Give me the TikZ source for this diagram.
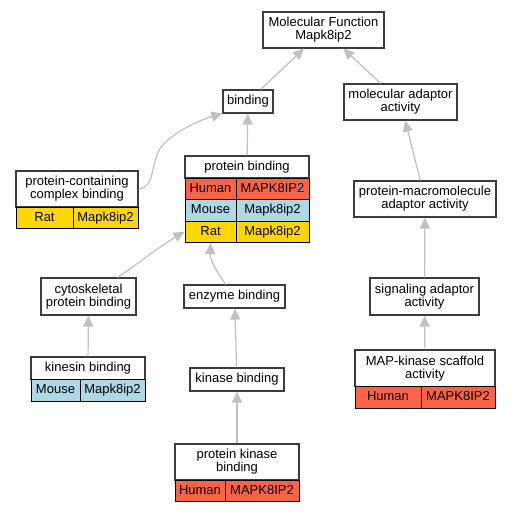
\documentclass[tikz,border=0pt]{standalone}
\usepackage{fontspec}
\setmainfont{Liberation Sans}
\usetikzlibrary{arrows.meta}
\definecolor{human}{RGB}{255,99,71}
\definecolor{mouse}{RGB}{173,216,230}
\definecolor{rat}{RGB}{255,215,0}
\definecolor{edgegray}{RGB}{192,192,192}
\definecolor{boxgray}{RGB}{60,60,60}
\tikzset{
	term/.style={draw=boxgray,line width=1.1pt,fill=white,inner sep=0pt,align=center,font=\fontsize{13}{13}\selectfont},
	cell/.style={draw=black,line width=1pt,fill=#1,inner sep=0pt,text height=9.5pt,text depth=2.5pt,font=\fontsize{13}{13}\selectfont},
	link/.style={draw=edgegray,line width=1.2pt,-{Triangle[length=11pt,width=10pt]}},
}
\begin{document}
\begin{tikzpicture}[x=1pt,y=-1pt]
	\useasboundingbox (0,0) rectangle (512,512);
	% terms
	\node[term,minimum width=121pt,minimum height=36pt] (mf) at (323.5,30) {Molecular Function\\Mapk8ip2};
	\node[term,minimum width=50pt,minimum height=23pt] (bind) at (248,101.5) {binding};
	\node[term,minimum width=113pt,minimum height=36pt] (adapt) at (400.5,102) {molecular adaptor\\activity};
	\node[term,minimum width=142pt,minimum height=36pt] (pma) at (425,199) {protein-macromolecule\\adaptor activity};
	\node[term,minimum width=95pt,minimum height=37pt] (cyto) at (88.5,296.5) {cytoskeletal\\protein binding};
	\node[term,minimum width=101pt,minimum height=23pt] (enz) at (234.5,296.5) {enzyme binding};
	\node[term,minimum width=109pt,minimum height=37pt] (sig) at (424.5,296.5) {signaling adaptor\\activity};
	\node[term,minimum width=94pt,minimum height=23pt] (kb) at (237,379.5) {kinase binding};
	% terms with genes
	\node[term,minimum width=122pt,minimum height=36pt] (pcc) at (77,189) {protein-containing\\complex binding};
	\node[cell=rat,minimum width=57pt,minimum height=21pt] (pccratl) at (44.5,217.5) {Rat};
	\node[cell=rat,minimum width=65pt,minimum height=21pt] (pccratr) at (105.5,217.5) {Mapk8ip2};
	\node[term,minimum width=124pt,minimum height=22pt] (pb) at (247,167) {protein binding};
	\node[cell=human,minimum width=51pt,minimum height=21.5pt] (pbhumanl) at (210.5,188.75) {Human};
	\node[cell=human,minimum width=73pt,minimum height=21.5pt] (pbhumanr) at (272.5,188.75) {MAPK8IP2};
	\node[cell=mouse,minimum width=51pt,minimum height=21.5pt] (pbmousel) at (210.5,210.25) {Mouse};
	\node[cell=mouse,minimum width=73pt,minimum height=21.5pt] (pbmouser) at (272.5,210.25) {Mapk8ip2};
	\node[cell=rat,minimum width=51pt,minimum height=21.5pt] (pbratl) at (210.5,231.75) {Rat};
	\node[cell=rat,minimum width=73pt,minimum height=21.5pt] (pbratr) at (272.5,231.75) {Mapk8ip2};
	\node[term,minimum width=114pt,minimum height=22.5pt] (kin) at (88,368.25) {kinesin binding};
	\node[cell=mouse,minimum width=49pt,minimum height=21.5pt] (kinmousel) at (55.5,390.25) {Mouse};
	\node[cell=mouse,minimum width=65pt,minimum height=21.5pt] (kinmouser) at (112.5,390.25) {Mapk8ip2};
	\node[term,minimum width=140pt,minimum height=36.7pt] (mapk) at (425,368.3) {MAP-kinase scaffold\\activity};
	\node[cell=human,minimum width=66pt,minimum height=21.3pt] (mapkhumanl) at (388,397.35) {Human};
	\node[cell=human,minimum width=74pt,minimum height=21.3pt] (mapkhumanr) at (458,397.35) {MAPK8IP2};
	\node[term,minimum width=124pt,minimum height=36pt] (pkb) at (237,462) {protein kinase\\binding};
	\node[cell=human,minimum width=50pt,minimum height=21pt] (pkbhumanl) at (200,490.5) {Human};
	\node[cell=human,minimum width=74pt,minimum height=21pt] (pkbhumanr) at (262,490.5) {MAPK8IP2};
	% is_a links
	\draw[link] (bind) -- (mf);
	\draw[link] (adapt) -- (mf);
	\draw[link] (pb) -- (bind);
	\draw[link] (pcc.east) .. controls (156,188) and (150,160) .. (162,146) .. controls (175,131) and (200,120) .. (bind.south west);
	\draw[link] (pma) -- (adapt);
	\draw[link] (sig) -- (pma);
	\draw[link] (mapk) -- (sig);
	\draw[link] (cyto.33) .. controls (140,262) and (165,243) .. (pbratl.west);
	\draw[link] (enz.126) .. controls (216,270) and (210,260) .. (pbratl.south);
	\draw[link] (kin) -- (cyto);
	\draw[link] (kb) -- (enz);
	\draw[link] (pkb) -- (kb);
\end{tikzpicture}
\end{document}
